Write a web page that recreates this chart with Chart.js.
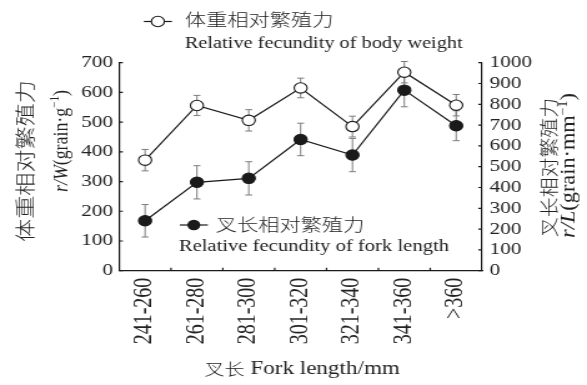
<!DOCTYPE html>
<html>
<head>
<meta charset="utf-8">
<script src="https://cdn.jsdelivr.net/npm/chart.js@4/dist/chart.umd.min.js"></script>
<style>
  html, body { margin: 0; padding: 0; background: #fff; overflow: hidden; }
  canvas { display: block; }
</style>
</head>
<body>
<!-- drawn on a 470px-wide canvas and displayed 587px wide (horizontally widened figure) -->
<canvas id="c" width="470" height="385" style="width:587px;height:385px"></canvas>
<script>
// Fork-length classes (mm)
const forkClasses = ['241-260', '261-280', '281-300', '301-320', '321-340', '341-360', '>360'];

// Relative fecundity of body weight, r/W (grain·g⁻¹): mean and error
const weightFecundity    = [372, 556, 506, 615, 485, 668, 557];
const weightFecundityErr = [36, 34, 36, 33, 35, 36, 36];

// Relative fecundity of fork length, r/L (grain·mm⁻¹): mean and error
const lengthFecundity    = [240, 425, 444, 631, 556, 868, 697];
const lengthFecundityErr = [78, 80, 80, 78, 80, 80, 72];

// Axis tick values
const weightTicks = [0, 100, 200, 300, 400, 500, 600, 700];
const lengthTicks = [0, 100, 200, 300, 400, 500, 600, 700, 800, 900, 1000];

const SERIF = '"Liberation Serif", "Times New Roman", serif';
const CJK = '"Noto Sans CJK SC", "Noto Sans CJK JP", sans-serif';
const INK = '#1a1a1a';
const TEXT = '#222';

function runsWidth(ctx, runs) {
  let w = 0;
  for (const r of runs) { ctx.font = r.font; w += ctx.measureText(r.t).width; }
  return w;
}
function drawRuns(ctx, runs, x, y) {
  ctx.textAlign = 'left';
  ctx.textBaseline = 'middle';
  let cx = x;
  for (const r of runs) {
    ctx.font = r.font;
    ctx.fillText(r.t, cx, y + (r.dy || 0));
    cx += ctx.measureText(r.t).width;
  }
}
// rotated (bottom-to-top) title, stretched along its length to a given span
function drawVerticalRuns(ctx, runs, cx, cy, span) {
  const w = runsWidth(ctx, runs);
  ctx.save();
  ctx.translate(cx, cy);
  ctx.rotate(-Math.PI / 2);
  ctx.scale(span / w, 1);
  drawRuns(ctx, runs, -w / 2, 0);
  ctx.restore();
}

const errorBars = {
  id: 'errorBars',
  beforeDatasetsDraw(chart) {
    const ctx = chart.ctx;
    const sets = [
      { idx: 0, axis: 'yW', vals: weightFecundity, errs: weightFecundityErr },
      { idx: 1, axis: 'yL', vals: lengthFecundity, errs: lengthFecundityErr }
    ];
    ctx.save();
    ctx.strokeStyle = '#7d7d7d';
    ctx.lineWidth = 1;
    for (const s of sets) {
      const meta = chart.getDatasetMeta(s.idx);
      const sc = chart.scales[s.axis];
      s.vals.forEach((v, j) => {
        const x = meta.data[j].x;
        const y1 = sc.getPixelForValue(v + s.errs[j]);
        const y2 = sc.getPixelForValue(v - s.errs[j]);
        ctx.beginPath();
        ctx.moveTo(x, y1); ctx.lineTo(x, y2);
        ctx.moveTo(x - 2.8, y1); ctx.lineTo(x + 2.8, y1);
        ctx.moveTo(x - 2.8, y2); ctx.lineTo(x + 2.8, y2);
        ctx.stroke();
      });
    }
    ctx.restore();
  }
};

const innerTicks = {
  id: 'innerTicks',
  afterDraw(chart) {
    const ctx = chart.ctx;
    const { yW, yL, x } = chart.scales;
    const len = 3;
    ctx.save();
    ctx.strokeStyle = INK;
    ctx.lineWidth = 1.2;
    ctx.beginPath();
    weightTicks.forEach(v => {
      const y = yW.getPixelForValue(v);
      ctx.moveTo(yW.right, y); ctx.lineTo(yW.right + len, y);
    });
    lengthTicks.forEach(v => {
      const y = yL.getPixelForValue(v);
      ctx.moveTo(yL.left, y); ctx.lineTo(yL.left - len, y);
    });
    for (let i = 1; i < forkClasses.length; i++) {
      const px = (x.getPixelForValue(i - 1) + x.getPixelForValue(i)) / 2;
      ctx.moveTo(px, x.top); ctx.lineTo(px, x.top - len);
    }
    ctx.stroke();
    ctx.restore();
  }
};

const annotations = {
  id: 'annotations',
  afterDraw(chart) {
    const ctx = chart.ctx;
    ctx.save();
    ctx.fillStyle = TEXT;

    // legend: body weight series
    ctx.strokeStyle = INK; ctx.lineWidth = 1.2;
    ctx.beginPath(); ctx.moveTo(115.2, 21.5); ctx.lineTo(137.6, 21.5); ctx.stroke();
    ctx.beginPath(); ctx.arc(126.4, 21.5, 5.2, 0, Math.PI * 2);
    ctx.fillStyle = '#fff'; ctx.fill(); ctx.lineWidth = 1.1; ctx.stroke();
    ctx.fillStyle = TEXT;
    drawRuns(ctx, [{ t: '体重相对繁殖力', font: '300 17px ' + CJK }], 148, 20);
    drawRuns(ctx, [{ t: 'Relative fecundity of body weight', font: '16.3px ' + SERIF }], 148, 43.5);

    // legend: fork length series
    ctx.lineWidth = 1.2;
    ctx.beginPath(); ctx.moveTo(144, 225); ctx.lineTo(166.4, 225); ctx.stroke();
    ctx.beginPath(); ctx.arc(155.2, 225, 5.2, 0, Math.PI * 2);
    ctx.fillStyle = INK; ctx.fill();
    ctx.fillStyle = TEXT;
    drawRuns(ctx, [{ t: '叉长相对繁殖力', font: '300 17px ' + CJK }], 172.8, 225);
    drawRuns(ctx, [{ t: 'Relative fecundity of fork length', font: '16.5px ' + SERIF }], 143.2, 246.7);

    // x-axis title
    const xt = [
      { t: '叉长', font: '300 16px ' + CJK },
      { t: ' Fork length/mm', font: '18.5px ' + SERIF }
    ];
    drawRuns(ctx, xt, 242 - runsWidth(ctx, xt) / 2, 369);

    // left axis title
    drawVerticalRuns(ctx, [{ t: '体重相对繁殖力', font: '300 16px ' + CJK }], 20, 161, 162);
    drawVerticalRuns(ctx, [
      { t: 'r/W', font: 'italic 16px ' + SERIF },
      { t: '(grain·g', font: '16px ' + SERIF },
      { t: '−1', font: '10px ' + SERIF, dy: -5 },
      { t: ')', font: '16px ' + SERIF }
    ], 49.6, 141, 102);

    // right axis title
    drawVerticalRuns(ctx, [{ t: '叉长相对繁殖力', font: '300 15px ' + CJK }], 439.2, 167.5, 139);
    drawVerticalRuns(ctx, [
      { t: 'r/L', font: 'italic 16px ' + SERIF },
      { t: '(grain·mm', font: '16px ' + SERIF },
      { t: '−1', font: '10px ' + SERIF, dy: -5 },
      { t: ')', font: '16px ' + SERIF }
    ], 456, 165.5, 145);

    ctx.restore();
  }
};

new Chart(document.getElementById('c'), {
  type: 'line',
  data: {
    labels: forkClasses,
    datasets: [
      {
        label: '体重相对繁殖力',
        data: weightFecundity,
        yAxisID: 'yW',
        borderColor: INK,
        borderWidth: 1.2,
        pointRadius: 5.2,
        pointHoverRadius: 5.2,
        pointBorderWidth: 1.1,
        pointBorderColor: INK,
        pointBackgroundColor: '#fff',
        tension: 0
      },
      {
        label: '叉长相对繁殖力',
        data: lengthFecundity,
        yAxisID: 'yL',
        borderColor: INK,
        borderWidth: 1.2,
        pointRadius: 5.2,
        pointHoverRadius: 5.2,
        pointBorderWidth: 1.1,
        pointBorderColor: INK,
        pointBackgroundColor: INK,
        tension: 0
      }
    ]
  },
  options: {
    responsive: false,
    animation: false,
    devicePixelRatio: 1,
    layout: { padding: { top: 62.7, left: 0, right: 0, bottom: 0 } },
    plugins: { legend: { display: false }, tooltip: { enabled: false } },
    scales: {
      x: {
        type: 'category',
        offset: true,
        grid: { display: false, drawTicks: false },
        border: { display: true, color: INK, width: 1.2 },
        ticks: {
          color: TEXT,
          font: { family: SERIF, size: 20 },
          minRotation: 90,
          maxRotation: 90,
          autoSkip: false,
          padding: 7
        },
        afterFit(s) { s.height = 114.3; }
      },
      yW: {
        type: 'linear',
        position: 'left',
        min: 0,
        max: 700,
        grid: { display: false, drawTicks: false },
        border: { display: true, color: INK, width: 1.2 },
        afterBuildTicks(s) { s.ticks = weightTicks.map(v => ({ value: v })); },
        ticks: { color: TEXT, font: { family: SERIF, size: 17 }, padding: 5, autoSkip: false, callback: v => String(v) },
        afterFit(s) { s.width = 95.4; }
      },
      yL: {
        type: 'linear',
        position: 'right',
        min: 0,
        max: 1000,
        grid: { display: false, drawTicks: false },
        border: { display: true, color: INK, width: 1.2 },
        afterBuildTicks(s) { s.ticks = lengthTicks.map(v => ({ value: v })); },
        ticks: { color: TEXT, font: { family: SERIF, size: 17 }, padding: 6, autoSkip: false, callback: v => String(v) },
        afterFit(s) { s.width = 84; }
      }
    }
  },
  plugins: [errorBars, innerTicks, annotations]
});
</script>
</body>
</html>
